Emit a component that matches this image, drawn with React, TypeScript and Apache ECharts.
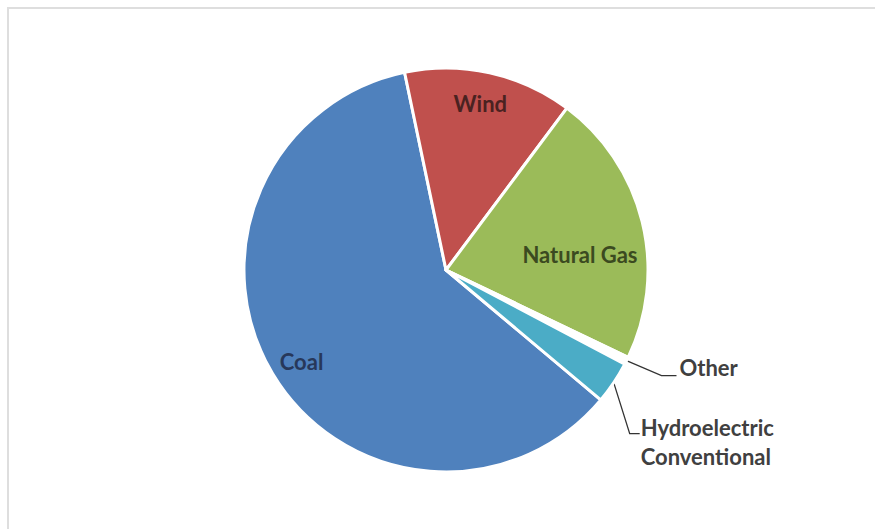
import React, { useEffect, useRef } from "react";
import * as echarts from "echarts";

const categories = ["Coal", "Wind", "Natural Gas", "Other", "Hydroelectric\nConventional"];
const shares = [60.6, 13.5, 21.9, 0.6, 3.4];

const sliceColors = ["#4f81bd", "#c0504d", "#9bbb59", "#ffffff", "#4bacc6"];
const insideLabelColors = ["#27385a", "#4a2221", "#3b4a20"];

const FONT = "Lato";

export default function App() {
  const ref = useRef<HTMLDivElement>(null);
  useEffect(() => {
    if (!ref.current) return;
    const chart = echarts.init(ref.current, undefined, { renderer: "svg" });
    const center = [437, 261];
    const R = 202;
    chart.setOption({
      animation: false,
      backgroundColor: "#ffffff",
      series: [
        {
          type: "pie",
          center,
          radius: [0, R],
          startAngle: -40,
          clockwise: true,
          silent: true,
          avoidLabelOverlap: false,
          emphasis: { disabled: true },
          itemStyle: { borderColor: "#ffffff", borderWidth: 3 },
          label: {
            position: "outside",
            color: "#404040",
            fontFamily: FONT,
            fontWeight: "bold",
            fontSize: 22,
            lineHeight: 29,
            formatter: "{b}",
          },
          labelLine: {
            length: 30,
            length2: 12,
            lineStyle: { color: "#333333", width: 1.3 },
          },
          labelLayout: (p: any) => {
            const pts = p.labelLinePoints;
            if (!pts) return {};
            const x0 = pts[0][0];
            const y0 = pts[0][1];
            if (p.dataIndex === 3) {
              return {
                x: x0 + 53,
                y: y0 + 7,
                labelLinePoints: [[x0, y0], [x0 + 35, y0 + 15], [x0 + 50, y0 + 15]],
              };
            }
            if (p.dataIndex === 4) {
              return {
                x: x0 + 27,
                y: y0 + 59,
                labelLinePoints: [[x0, y0], [x0 + 16, y0 + 51], [x0 + 26, y0 + 51]],
              };
            }
            return {};
          },
          data: categories.map((name, i) => ({
            name,
            value: shares[i],
            itemStyle: { color: sliceColors[i] },
            label: { show: i >= 3 },
            labelLine: { show: i >= 3 },
          })),
        },
        {
          type: "pie",
          center,
          radius: [138, R],
          startAngle: -40,
          clockwise: true,
          silent: true,
          avoidLabelOverlap: false,
          emphasis: { disabled: true },
          itemStyle: { color: "rgba(0,0,0,0)", borderWidth: 0 },
          label: {
            position: "inside",
            fontFamily: FONT,
            fontWeight: "bold",
            fontSize: 22,
            textBorderWidth: 0,
            formatter: "{b}",
          },
          labelLine: { show: false },
          labelLayout: (p: any) => {
            const r = p.labelRect;
            if (p.dataIndex === 2) {
              return { x: r.x + r.width / 2 - 34, y: r.y + r.height / 2 + 26 };
            }
            if (p.dataIndex === 0) {
              return { x: r.x + r.width / 2 + 4, y: r.y + r.height / 2 + 3 };
            }
            if (p.dataIndex === 1) {
              return { x: r.x + r.width / 2 - 3, y: r.y + r.height / 2 + 2 };
            }
            return {};
          },
          data: categories.map((name, i) => ({
            name,
            value: shares[i],
            label: { show: i < 3, color: insideLabelColors[i] || "#404040" },
          })),
        },
      ],
    });
    return () => chart.dispose();
  }, []);
  return (
    <div
      ref={ref}
      style={{
        position: "fixed",
        left: 7,
        top: 7,
        width: 868,
        height: 522,
        boxSizing: "border-box",
        borderTop: "2px solid #dedede",
        borderLeft: "2px solid #dedede",
        background: "#ffffff",
      }}
    />
  );
}
